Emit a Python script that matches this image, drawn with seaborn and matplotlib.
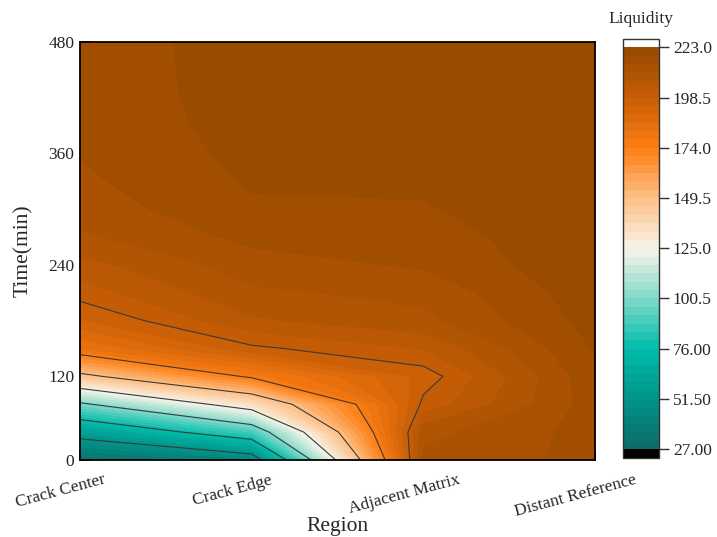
import numpy as np
import pandas as pd
import matplotlib
matplotlib.use("Agg")
import matplotlib.pyplot as plt
import seaborn as sns
from matplotlib.transforms import ScaledTranslation
from matplotlib.ticker import FormatStrFormatter

# ---- data ----
regions = ["Crack Center", "Crack Edge", "Adjacent Matrix", "Distant Reference"]
times = [30, 60, 90, 120, 150, 180, 210, 240, 270, 300, 330, 360, 390, 420, 450, 480]
crack_center = [31.0, 58.0, 98.0, 145.5, 182.0, 194.0, 200.5, 205.0, 210.0, 212.5,
                214.0, 215.0, 215.5, 216.0, 216.5, 217.0]
crack_edge = [41.4, 88.2, 134.0, 176.0, 197.5, 206.0, 210.0, 213.0, 216.0, 218.3,
              219.4, 220.1, 220.8, 221.0, 220.8, 220.5]
adjacent_matrix = [212.0, 209.4, 199.8, 196.0, 202.8, 209.7, 211.9, 215.4, 217.0, 218.6,
                   219.5, 220.5, 221.0, 221.5, 221.5, 221.5]
distant_reference = [216.0, 216.5, 217.0, 218.0, 219.3, 220.5, 221.5, 222.0, 222.0, 222.0,
                     222.0, 222.0, 222.0, 222.0, 222.0, 222.0]
ytick_vals = [30, 120, 240, 360, 480]
ytick_labels = ["0", "120", "240", "360", "480"]
vmin, vmax = 27.0, 223.0

df = pd.DataFrame({
    regions[0]: crack_center,
    regions[1]: crack_edge,
    regions[2]: adjacent_matrix,
    regions[3]: distant_reference,
}, index=times)

sns.set_theme(style="white")
plt.rcParams["font.family"] = ["Liberation Serif", "DejaVu Serif"]

cmap = sns.blend_palette(
    ["#0c6b66", "#00958a", "#00bcab", "#80d9c9", "#f7f4e8",
     "#fdc088", "#fd7e12", "#c85e06", "#964a00"],
    n_colors=256, as_cmap=True,
).with_extremes(over="white", under="black")

fig = plt.figure(figsize=(7.17, 5.37), dpi=100)
ax = fig.add_axes([80 / 717, 1 - 460 / 537, 515 / 717, 418 / 537])
cax = fig.add_axes([623 / 717, 1 - 457.5 / 537, 36 / 717, 418.5 / 537])

xs = np.arange(len(regions))
X, Y = np.meshgrid(xs, df.index.values)
Z = df.values

fill_levels = np.linspace(vmin, vmax, 49)
line_levels = np.linspace(vmin, vmax, 9)
cf = ax.contourf(X, Y, Z, levels=fill_levels, cmap=cmap, extend="both")
ax.contour(X, Y, Z, levels=line_levels, colors="#3a3a3a", linewidths=0.8)

ax.set_xticks(xs)
ax.set_xticklabels([])
ax.set_yticks(ytick_vals)
ax.set_yticklabels(ytick_labels, fontsize=12.5)
ax.set_xlim(0, 3)
ax.set_ylim(30, 480)
ax.tick_params(axis="both", which="major", direction="in", length=7, width=1.2,
               color="black", bottom=True, left=True, top=False, right=False)
ax.tick_params(axis="y", pad=4)
for s in ax.spines.values():
    s.set_color("black")
    s.set_linewidth(1.3)

# category labels, rotated and drawn slightly left of their tick marks
lab_off = ScaledTranslation(-19 / 100, -12 / 100, fig.dpi_scale_trans)
for xi, name in zip(xs, regions):
    ax.text(xi, 0, name, transform=ax.get_xaxis_transform() + lab_off,
            rotation=15, ha="center", va="top", fontsize=12.5, clip_on=False)

ax.set_xlabel("Region", fontsize=15.5)
ax.xaxis.set_label_coords(0.5, -(517 - 460) / 418)
ax.set_ylabel("Time(min)", fontsize=15.5, labelpad=11)

cbar = fig.colorbar(cf, cax=cax, extendfrac="auto", extendrect=True,
                    ticks=line_levels, format=FormatStrFormatter("%#.4g"))
cbar.ax.tick_params(direction="out", length=7, width=1, labelsize=12.5, pad=3,
                    right=True, color="#333333")
cbar.outline.set_edgecolor("#333333")
cbar.outline.set_linewidth(1.0)
fig.text(641 / 717, 1 - 19 / 537, "Liquidity", ha="center", va="center", fontsize=12.5)

fig.savefig("out.png", dpi=100)
